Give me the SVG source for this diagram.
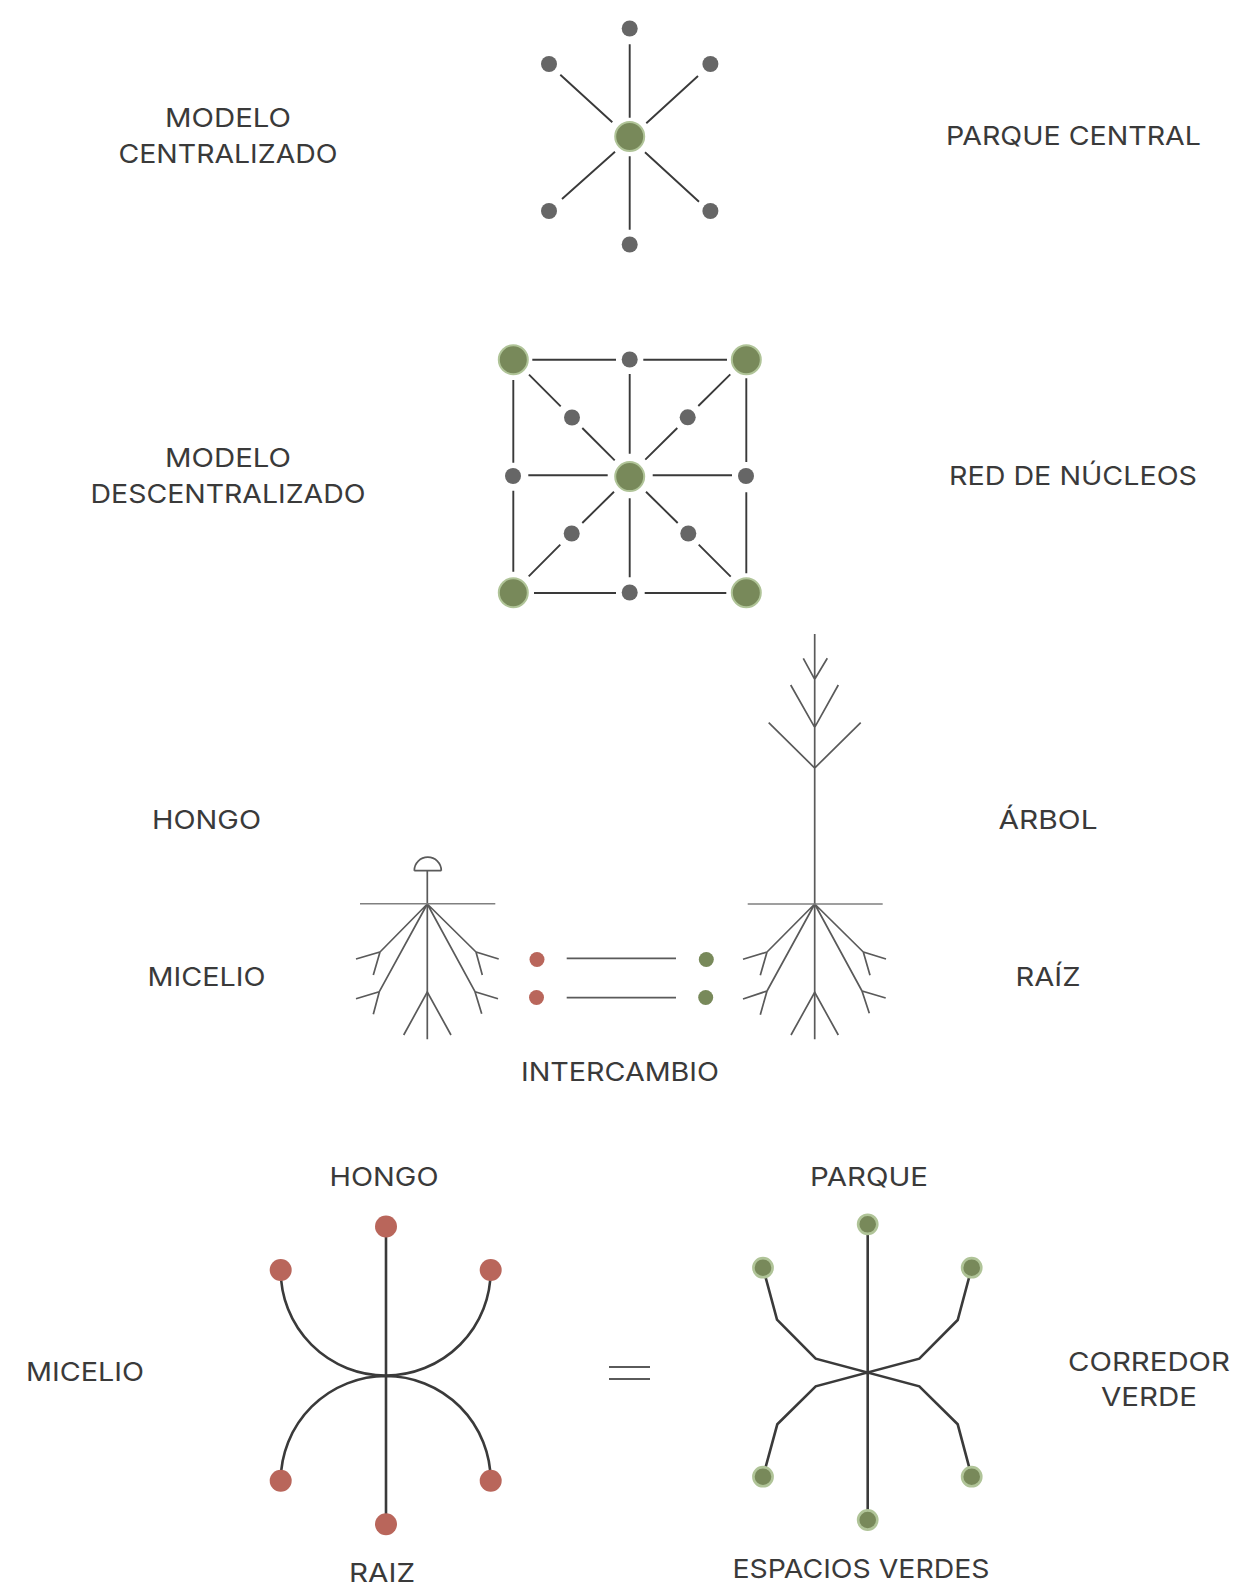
<svg xmlns="http://www.w3.org/2000/svg" width="1236" height="1585" viewBox="0 0 1236 1585">
<style>
.t{font-family:"Inter","Open Sans","Liberation Sans",sans-serif;font-size:26px;fill:#3a3a3a;text-anchor:middle}
.d{fill:#666}
.g{fill:#78895a;stroke:#b0c498;stroke-width:2}
.gs{fill:#78895a;stroke:#b0c498;stroke-width:2.6}
.r{fill:#b9665b}
.c1 path{fill:none;stroke:#3a3a3a;stroke-width:1.9}
.c2 path{fill:none;stroke:#5a5a5a;stroke-width:1.7}
.c3 path{fill:none;stroke:#3a3a3a;stroke-width:2.6}
.grd{fill:none;stroke:#808080;stroke-width:1.5}
</style>
<rect width="1236" height="1585" fill="#fff"/>
<g id="connectors">
<g class="c1">
<path d="M629.7 44.3V117.7M629.7 156.3V229.7M560.3 74.7L612.3 122.3M698 76L646.3 123.3M615 151.7L562 199M645 152.3L699 201.7"/>
<path d="M532.3 359.7H616M643.3 359.7H727M534 593H616M644.7 593H726.3M513.3 380V462.7M513.3 490.7V571.7M746.3 378.3V462M746.3 492.3V573.3M629.7 374V453.7M629.7 498.3V577.3M528.3 475.3H607.7M652.7 475.3H732"/>
<path d="M529 374.7L560.7 406.3M582.3 428L614.7 460.3M730.3 374.3L698.3 406M677.3 428L645.3 459.7M614 491.7L582.3 523M560.3 544.7L528.7 576.3M646 491.7L677.7 523M698.7 544.7L730.7 576.7"/>
</g>
<g class="c2">
<path d="M427.3 870.7V1039.3M414.3 870.7H441.3M414.3 870.7A13.5 13.5 0 0 1 441.3 870.7"/>
<path d="M427.3 904L380 952M356 959L380 952L373.3 975M427.3 904L379.3 991.7M356 998.7L379.3 991.7L373.3 1014.3M427.3 904L476 952M498.7 959L476 952L482.3 975M427.3 904L475 991.7M498 998.7L475 991.7L481.7 1013.7M403.7 1035L427.3 992L451 1035"/>
<path d="M566.7 958.3H676M566.7 997.7H676"/>
<path d="M814.7 634V1039.3M803.3 658.3L814.7 679.3L827.3 658.3M790.7 685L814.7 727.3L838.3 685M768.7 722.7L814.7 768L860.7 722.7"/>
<path d="M814.7 904L767 952M743 959.3L767 952L760.3 975.3M814.7 904L767 991M743 999L767 991L760.3 1014.7M814.7 904L863.3 952M886 959L863.3 952L870 975.3M814.7 904L862 991M885.7 998L862 991L869.3 1013.3M791 1035L814.7 992.3L838.3 1035"/>
</g>
<path class="grd" d="M360 903.7H495.3M747.7 904H882.7"/>
<g class="c3">
<path d="M386 1226V1524M280.7 1270A105 105 0 0 0 386 1375.5A105 105 0 0 0 490.7 1270M280.7 1480.7A105 105 0 0 1 386 1376A105 105 0 0 1 490.7 1480.7"/>
<path d="M867.7 1224V1520M763 1267.7L777 1319.7L815.7 1358.7L919.3 1386.3L957.7 1424.3L971.7 1476.7M971.7 1267.7L957.7 1320L919.3 1358.7L815.7 1386.3L777.3 1424.3L763 1476.7"/>
</g>
<path d="M609 1367H650M609 1379H650" fill="none" stroke="#5a5a5a" stroke-width="1.8"/>
</g>
<g id="central-nodes">
<circle class="g" cx="629.7" cy="136.5" r="14.5"/>
<circle class="d" cx="629.7" cy="28.5" r="8"/><circle class="d" cx="549" cy="64" r="8"/><circle class="d" cx="710.4" cy="64" r="8"/><circle class="d" cx="549" cy="211" r="8"/><circle class="d" cx="710.4" cy="211" r="8"/><circle class="d" cx="629.7" cy="244.5" r="8"/>
</g>
<g id="decentral-nodes">
<circle class="g" cx="513.3" cy="359.7" r="14.5"/><circle class="g" cx="746.3" cy="359.7" r="14.5"/><circle class="g" cx="513.3" cy="592.7" r="14.5"/><circle class="g" cx="746.3" cy="592.7" r="14.5"/><circle class="g" cx="629.7" cy="476.6" r="14.5"/>
<circle class="d" cx="629.7" cy="359.5" r="8"/><circle class="d" cx="513" cy="476" r="8"/><circle class="d" cx="746" cy="476" r="8"/><circle class="d" cx="629.7" cy="592.5" r="8"/>
<circle class="d" cx="572" cy="417.5" r="8"/><circle class="d" cx="687.7" cy="417.3" r="8"/><circle class="d" cx="571.7" cy="533.5" r="8"/><circle class="d" cx="688.3" cy="533.5" r="8"/>
</g>
<g id="exchange-nodes">
<circle class="r" cx="537" cy="959.5" r="7.5"/><circle class="r" cx="536.5" cy="997.5" r="7.5"/>
<circle fill="#78895a" cx="706.3" cy="959.5" r="7.5"/><circle fill="#78895a" cx="705.7" cy="997.5" r="7.5"/>
</g>
<g id="hongo-nodes">
<circle class="r" cx="386" cy="1226.5" r="11"/><circle class="r" cx="280.7" cy="1270" r="11"/><circle class="r" cx="490.7" cy="1270" r="11"/><circle class="r" cx="280.7" cy="1480.7" r="11"/><circle class="r" cx="490.7" cy="1480.7" r="11"/><circle class="r" cx="386" cy="1524.3" r="11"/>
</g>
<g id="parque-nodes">
<circle class="gs" cx="867.7" cy="1224.3" r="9.6"/><circle class="gs" cx="763" cy="1267.7" r="9.6"/><circle class="gs" cx="971.7" cy="1267.7" r="9.6"/><circle class="gs" cx="763" cy="1476.7" r="9.6"/><circle class="gs" cx="971.7" cy="1476.7" r="9.6"/><circle class="gs" cx="867.7" cy="1520" r="9.6"/>
</g>
<g id="labels">
<text class="t" x="228" y="127" textLength="126" lengthAdjust="spacingAndGlyphs">MODELO</text>
<text class="t" x="228" y="163" textLength="219" lengthAdjust="spacingAndGlyphs">CENTRALIZADO</text>
<text class="t" x="1073.5" y="145" textLength="255" lengthAdjust="spacingAndGlyphs">PARQUE CENTRAL</text>
<text class="t" x="228" y="467" textLength="126" lengthAdjust="spacingAndGlyphs">MODELO</text>
<text class="t" x="228" y="503" textLength="275" lengthAdjust="spacingAndGlyphs">DESCENTRALIZADO</text>
<text class="t" x="1073" y="485" textLength="248" lengthAdjust="spacingAndGlyphs">RED DE NÚCLEOS</text>
<text class="t" x="206.5" y="829" textLength="109" lengthAdjust="spacingAndGlyphs">HONGO</text>
<text class="t" x="1048" y="829" textLength="99" lengthAdjust="spacingAndGlyphs">ÁRBOL</text>
<text class="t" x="206.5" y="986" textLength="118" lengthAdjust="spacingAndGlyphs">MICELIO</text>
<text class="t" x="1048" y="986" textLength="65" lengthAdjust="spacingAndGlyphs">RAÍZ</text>
<text class="t" x="620" y="1081" textLength="198" lengthAdjust="spacingAndGlyphs">INTERCAMBIO</text>
<text class="t" x="384" y="1186" textLength="109" lengthAdjust="spacingAndGlyphs">HONGO</text>
<text class="t" x="869" y="1186" textLength="118" lengthAdjust="spacingAndGlyphs">PARQUE</text>
<text class="t" x="85" y="1381" textLength="118" lengthAdjust="spacingAndGlyphs">MICELIO</text>
<text class="t" x="1149" y="1371" textLength="162" lengthAdjust="spacingAndGlyphs">CORREDOR</text>
<text class="t" x="1149" y="1406" textLength="96" lengthAdjust="spacingAndGlyphs">VERDE</text>
<text class="t" x="382" y="1582" textLength="66" lengthAdjust="spacingAndGlyphs">RAIZ</text>
<text class="t" x="861" y="1578" textLength="257" lengthAdjust="spacingAndGlyphs">ESPACIOS VERDES</text>
</g>
</svg>
